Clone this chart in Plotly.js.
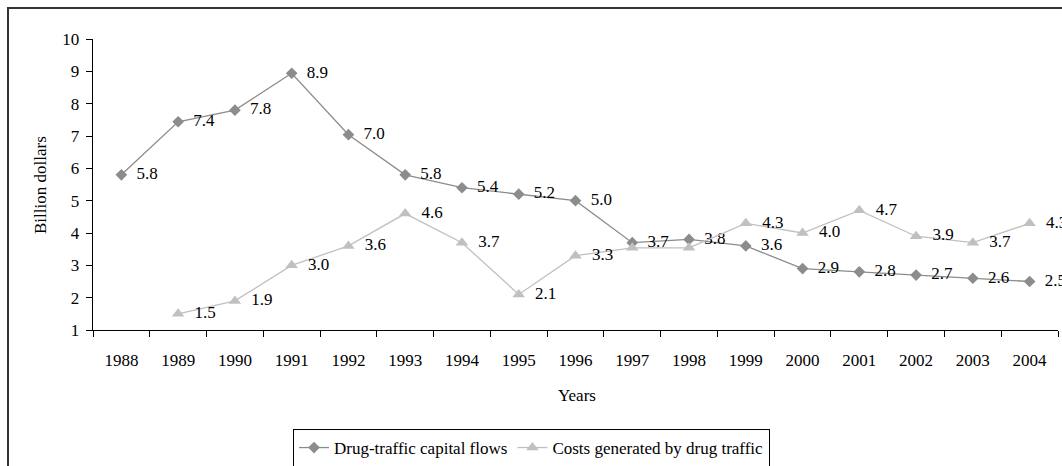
<!DOCTYPE html>
<html>
<head>
<meta charset="utf-8">
<script src="https://cdn.plot.ly/plotly-3.0.1.min.js"></script>
<style>html,body{margin:0;padding:0;background:#fff;overflow:hidden}#chart{width:1062px;height:466px}</style>
</head>
<body>
<div id="chart"></div>
<script>
var years = ["1988","1989","1990","1991","1992","1993","1994","1995","1996","1997","1998","1999","2000","2001","2002","2003","2004"];
var capitalFlows = [5.8, 7.44, 7.8, 8.94, 7.04, 5.8, 5.4, 5.2, 5.0, 3.7, 3.8, 3.6, 2.9, 2.8, 2.7, 2.6, 2.5];
var costs = [null, 1.5, 1.9, 3.0, 3.6, 4.6, 3.7, 2.1, 3.3, 3.54, 3.54, 4.3, 4.0, 4.7, 3.9, 3.7, 4.3];
var costsShowLabel = [false, true, true, true, true, true, true, true, true, false, false, true, true, true, true, true, true];
var seriesNames = ["Drug-traffic capital flows", "Costs generated by drug traffic"];
var xTitle = "Years";
var yTitle = "Billion dollars";

var fontFam = "Liberation Serif, Times New Roman, serif";
var fs = 17;
function labels(vals, show) {
  return vals.map(function (v, i) { return (v === null || (show && !show[i])) ? "" : "  " + v.toFixed(1); });
}

var traces = [
  {
    x: years, y: capitalFlows, name: seriesNames[0], type: "scatter", mode: "lines+markers+text",
    line: {color: "#8c8c8c", width: 1.3},
    marker: {symbol: "diamond", size: 9, color: "#8c8c8c"},
    text: labels(capitalFlows), textposition: "middle right",
    textfont: {family: fontFam, size: fs, color: "#000"}, cliponaxis: false, hoverinfo: "x+y"
  },
  {
    x: years, y: costs, name: seriesNames[1], type: "scatter", mode: "lines+markers+text",
    line: {color: "#c0c0c0", width: 1.3},
    marker: {symbol: "triangle-up", size: 11, color: "#c0c0c0"},
    text: labels(costs, costsShowLabel), textposition: "middle right",
    textfont: {family: fontFam, size: fs, color: "#000"}, cliponaxis: false, hoverinfo: "x+y"
  }
];

var L = 93, R = 1058, T = 39, B = 330;
function px2x(p) { return (p - L) / (R - L); }
function py2y(p) { return (B - p) / (B - T); }

var layout = {
  width: 1062, height: 466,
  margin: {l: L, r: 1062 - R, t: T, b: 466 - B, pad: 0, autoexpand: false},
  paper_bgcolor: "#fff", plot_bgcolor: "#fff",
  font: {family: fontFam, size: fs, color: "#000"},
  showlegend: true,
  xaxis: {
    type: "category", range: [-0.5, 16.5], tickson: "boundaries",
    ticks: "outside", ticklen: 6, tickwidth: 1, tickcolor: "#000",
    showline: true, linecolor: "#000", linewidth: 1.3, showgrid: false, zeroline: false,
    tickfont: {family: fontFam, size: fs}, ticklabelstandoff: 14, automargin: false
  },
  yaxis: {
    range: [1, 10], dtick: 1, tick0: 1,
    ticks: "outside", ticklen: 6, tickwidth: 1, tickcolor: "#000",
    showline: true, linecolor: "#000", linewidth: 1.3, showgrid: false, zeroline: false,
    tickfont: {family: fontFam, size: fs}, ticklabelstandoff: 3, automargin: false
  },
  annotations: [
    {text: xTitle, xref: "paper", yref: "paper", x: px2x(577), y: py2y(395), xanchor: "center", yanchor: "middle",
     showarrow: false, font: {family: fontFam, size: fs}},
    {text: yTitle, xref: "paper", yref: "paper", x: px2x(40), y: py2y(185), xanchor: "center", yanchor: "middle",
     textangle: -90, showarrow: false, font: {family: fontFam, size: fs}}
  ],
  legend: {
    orientation: "h", x: px2x(531.5), xanchor: "center", y: py2y(429), yanchor: "top",
    bordercolor: "#000", borderwidth: 1, bgcolor: "#fff",
    font: {family: fontFam, size: fs}, itemwidth: 30, tracegroupgap: 0
  },
  shapes: [
    {type: "rect", xref: "paper", yref: "paper", x0: px2x(8), x1: px2x(1080), y0: py2y(8), y1: py2y(490),
     line: {color: "#333", width: 2}, fillcolor: "rgba(0,0,0,0)", layer: "below"}
  ]
};

Plotly.newPlot("chart", traces, layout, {staticPlot: true, displayModeBar: false});
</script>
</body>
</html>
